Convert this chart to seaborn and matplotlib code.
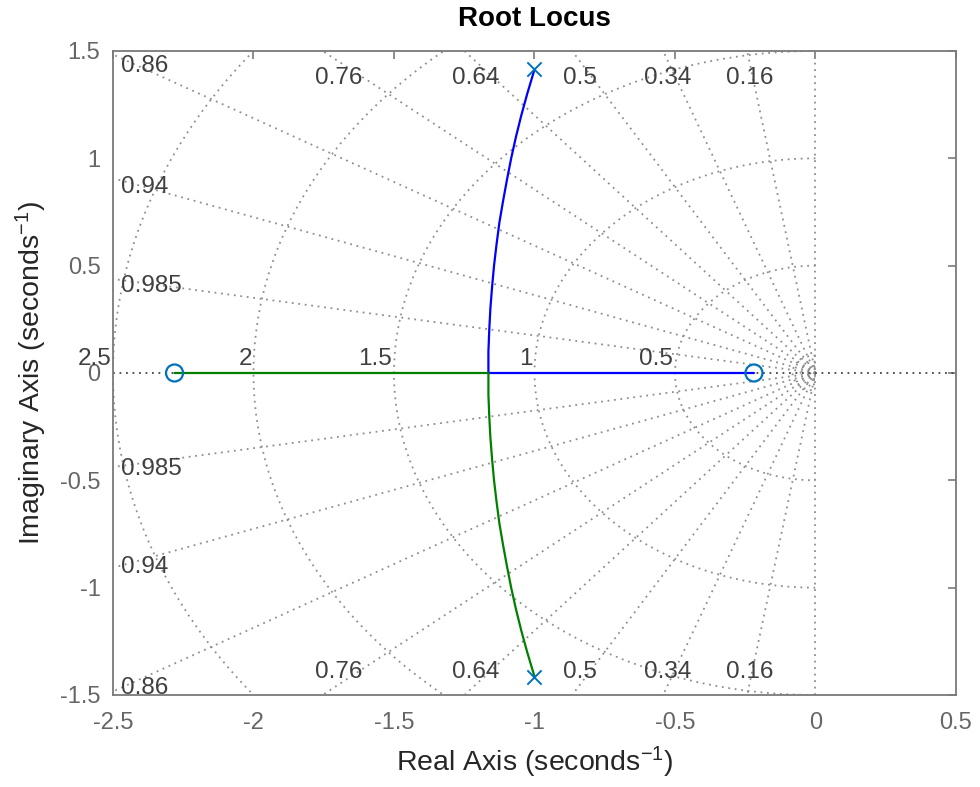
import numpy as np
import pandas as pd
import matplotlib
matplotlib.use('Agg')
import matplotlib.pyplot as plt
import seaborn as sns

# poles and zeros
pole_re = [-1.0, -1.0]
pole_im = [1.414, -1.414]
zero_re = [-2.281, -0.219]
zero_im = [0.0, 0.0]

# complex part of the locus (upper half), pole -> breakaway point
arc_im = [1.414, 1.3, 1.2, 1.1, 1.0, 0.9, 0.8, 0.7, 0.6, 0.5, 0.4, 0.3, 0.2, 0.1, 0.0]
arc_re = [-1.0, -1.026, -1.047, -1.066, -1.083, -1.098, -1.112, -1.125,
          -1.135, -1.144, -1.151, -1.157, -1.161, -1.164, -1.164]

# grid (sgrid) values
zeta_vals = [0.16, 0.34, 0.5, 0.64, 0.76, 0.86, 0.94, 0.985]
zeta_top = [0.16, 0.34, 0.5, 0.64, 0.76]
zeta_left = [0.86, 0.94, 0.985]
wn_vals = [0.5, 1, 1.5, 2, 2.5]
wn_small = [0.018, 0.028, 0.053, 0.082]

xticks = [-2.5, -2, -1.5, -1, -0.5, 0, 0.5]
yticks = [-1.5, -1, -0.5, 0, 0.5, 1, 1.5]

sns.set_theme(style='white')
plt.rcParams['font.family'] = ['Liberation Sans', 'DejaVu Sans']
plt.rcParams['mathtext.default'] = 'regular'
plt.rcParams['axes.unicode_minus'] = False

fig = plt.figure(figsize=(9.8, 7.87), dpi=100)
ax = fig.add_axes([0.1153, 0.1169, 0.8602, 0.8183])

grid_kw = dict(color='#8e8e8e', lw=1.3, linestyle=(0, (1, 2.6)), zorder=1)
lab_col = '#404040'

# damping ratio rays
for z in zeta_vals:
    th = np.arccos(z)
    for sgn in (1, -1):
        ax.plot([0, -4 * np.cos(th)], [0, sgn * 4 * np.sin(th)], **grid_kw)
ax.axvline(0, **grid_kw)

# natural frequency arcs
phi = np.linspace(np.pi / 2, 3 * np.pi / 2, 400)
for w in wn_vals + wn_small:
    ax.plot(w * np.cos(phi), w * np.sin(phi), **grid_kw)

ax.axhline(0, color='#444444', lw=1.3, linestyle=(0, (1, 2.6)), zorder=1)

# damping labels
for z in zeta_top:
    th = np.arccos(z)
    xl = -1.45 / np.tan(th)
    for yl in (1.375, -1.395):
        ax.text(xl, yl, f'{z:g}', ha='center', va='center', fontsize=17.5, color=lab_col)
for z in zeta_left:
    th = np.arccos(z)
    yb = 2.44 * np.tan(th)
    for yl in (yb - 0.02, -yb - 0.02):
        ax.text(-2.47, yl, f'{z:g}', ha='left', va='center', fontsize=17.5, color=lab_col)

# frequency labels
for w in wn_vals:
    ax.text(-w - 0.006, 0.035, f'{w:g}', ha='right', va='baseline', fontsize=17.5,
            color=lab_col, clip_on=False)

# locus branches
br1 = pd.DataFrame({'re': arc_re + [zero_re[1]], 'im': arc_im + [0.0]})
br2 = pd.DataFrame({'re': arc_re + [zero_re[0]], 'im': [-v for v in arc_im] + [0.0]})
sns.lineplot(data=br1, x='re', y='im', sort=False, estimator=None, color='#0000ff', lw=1.6, ax=ax, zorder=3)
sns.lineplot(data=br2, x='re', y='im', sort=False, estimator=None, color='#008000', lw=1.6, ax=ax, zorder=3)

ax.scatter(pole_re, pole_im, marker='x', s=105, color='#0072BD', linewidths=1.4, zorder=5)
ax.scatter(zero_re, zero_im, marker='o', s=150, facecolors='none', edgecolors='#0072BD', linewidths=1.6, zorder=5)

ax.set_xlim(-2.5, 0.5)
ax.set_ylim(-1.5, 1.5)
ax.set_xticks(xticks)
ax.set_xticklabels([f'{v:g}' for v in xticks])
ax.set_yticks(yticks)
ax.set_yticklabels([f'{v:g}' for v in yticks])
ax.tick_params(axis='both', direction='in', length=6, width=1.2, color='#7a7a7a',
               labelcolor='#666666', labelsize=17, top=True, right=True)
ax.tick_params(axis='x', pad=12)
ax.tick_params(axis='y', pad=9)
for sp in ax.spines.values():
    sp.set_color('#7a7a7a')
    sp.set_linewidth(1.3)

ax.set_xlabel('Real Axis (seconds$^{-1}$)', fontsize=20.5, color='#262626', labelpad=8)
ax.set_ylabel('Imaginary Axis (seconds$^{-1}$)', fontsize=20.5, color='#262626', labelpad=8)
ax.set_title('Root Locus', fontsize=20, fontweight='bold', color='black', pad=18)

fig.savefig('out.png', dpi=100)
